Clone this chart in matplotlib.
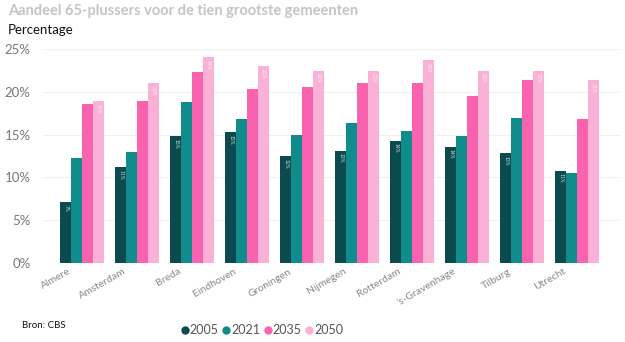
import matplotlib
matplotlib.use("Agg")
import matplotlib.pyplot as plt
import matplotlib.transforms as mtransforms
import numpy as np

plt.rcParams["font.family"] = ["Lato", "DejaVu Sans"]

categories = ["Almere", "Amsterdam", "Breda", "Eindhoven", "Groningen",
              "Nijmegen", "Rotterdam", "'s-Gravenhage", "Tilburg", "Utrecht"]
years = ["2005", "2021", "2035", "2050"]
v2005 = [7.1, 11.2, 14.8, 15.3, 12.5, 13.1, 14.3, 13.6, 12.8, 10.8]
v2021 = [12.3, 13.0, 18.8, 16.8, 15.0, 16.4, 15.4, 14.8, 17.0, 10.5]
v2035 = [18.6, 18.9, 22.3, 20.3, 20.6, 21.0, 21.0, 19.5, 21.4, 16.8]
v2050 = [18.9, 21.0, 24.1, 23.0, 22.5, 22.5, 23.7, 22.5, 22.5, 21.4]
series = [v2005, v2021, v2035, v2050]
colors = ["#0b4a4f", "#108c8c", "#f962ae", "#fbb0d5"]

fig = plt.figure(figsize=(6.25, 3.42), dpi=100)
ax = fig.add_axes([43/625, 79.3/342, (620-43)/625, (262.7-49.3)/342])

x = np.arange(len(categories))
w = 0.197
for i, (vals, c, yr) in enumerate(zip(series, colors, years)):
    pos = x + (i - 1.5) * w
    ax.bar(pos, vals, width=w, color=c, label=yr, zorder=2)
    if i in (0, 3):
        for p, v in zip(pos, vals):
            ax.text(p, v - 0.3, f"{round(v):d}%", rotation=270, ha="center", va="top",
                    fontsize=3.5, color="white", alpha=0.85, zorder=3)

ax.set_xlim(-0.71, 9.78)
ax.set_ylim(0, 25)
ax.set_yticks([0, 5, 10, 15, 20, 25])
ax.set_yticklabels([f"{t}%" for t in [0, 5, 10, 15, 20, 25]])
ax.yaxis.grid(True, color="#f0f0f0", linewidth=0.8, zorder=0)
ax.set_axisbelow(True)
for s in ax.spines.values():
    s.set_visible(False)
ax.tick_params(axis="y", length=0, pad=9, labelsize=9.5, labelcolor="#777777")
ax.tick_params(axis="x", length=0, pad=3, labelsize=7.5, labelcolor="#888888")
ax.set_xticks(x)
ax.set_xticklabels(categories, rotation=30, ha="right", rotation_mode="anchor")
offset = mtransforms.ScaledTranslation(-14/100, 0, fig.dpi_scale_trans)
for lab in ax.get_xticklabels():
    lab.set_transform(lab.get_transform() + offset)

fig.text(8/625, 1 - 11/342, "Aandeel 65-plussers voor de tien grootste gemeenten",
         fontsize=10.5, fontweight="bold", color="#c4c4c4", va="center", ha="left")
fig.text(8/625, 1 - 30/342, "Percentage", fontsize=9.5, color="#111111", va="center", ha="left")
fig.text(22/625, 1 - 325/342, "Bron: CBS", fontsize=7, color="#111111", va="center", ha="left")

leg = fig.legend(handles=[plt.Line2D([], [], marker="o", linestyle="", color=c, markersize=5)
                          for c in colors],
                 labels=years, loc="center", bbox_to_anchor=(262/625, 1 - 330/342),
                 ncol=4, frameon=False, fontsize=9, handletextpad=0.1,
                 columnspacing=0.3, handlelength=0.6)
for t in leg.get_texts():
    t.set_color("#555555")

fig.savefig("out.png", dpi=100, facecolor="white")
